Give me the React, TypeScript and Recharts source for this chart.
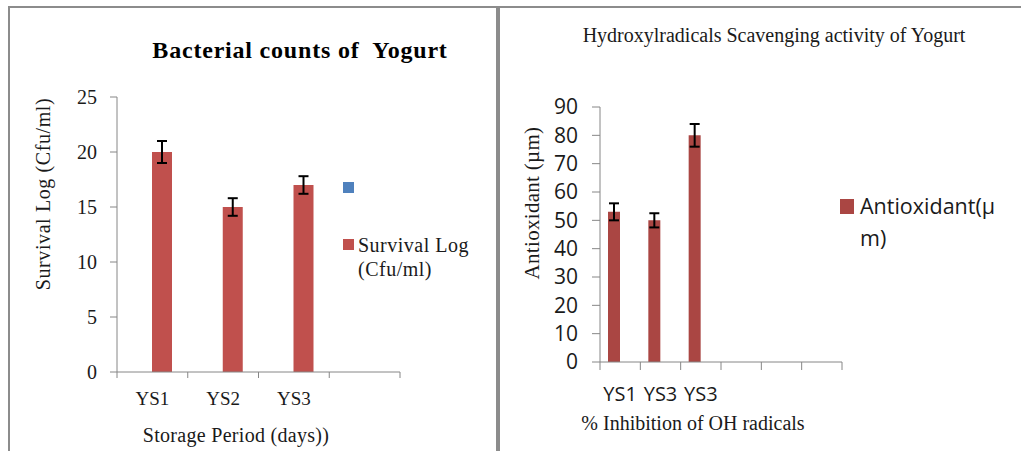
import { BarChart, Bar, XAxis, YAxis, ErrorBar, Legend, Label } from 'recharts';

// Bacterial counts panel
const countCategories = ['YS1', 'YS2', 'YS3', ''];
const survivalLog = [20, 15, 17, null];
const survivalErr = [1, 0.8, 0.8, null];
const countTicks = [0, 5, 10, 15, 20, 25];

// Hydroxyl radical scavenging panel
const antiCategories = ['YS1', 'YS3', 'YS3', '', '', ''];
const antioxidant = [53, 50, 80, null, null, null];
const antioxidantErr = [3, 2.5, 4, null, null, null];
const antiTicks = [0, 10, 20, 30, 40, 50, 60, 70, 80, 90];

const countData = countCategories.map((name, i) => ({
  name,
  blank: null,
  survival: survivalLog[i],
  err: survivalErr[i],
}));

const antiData = antiCategories.map((name, i) => ({
  name,
  antioxidant: antioxidant[i],
  err: antioxidantErr[i],
  blank: null,
}));

const AXIS = '#868686';
const SERIF = '"Liberation Serif", "Times New Roman", serif';
const SANS = '"Open Sans", "Noto Sans", sans-serif';
const TEXT = '#1a1a1a';

function CategoryTick(props: any) {
  const { x, y, payload, index, visibleTicksCount, half, tickLen, labelDy, font, size } = props;
  const h = payload?.offset ?? half;
  const last = index === visibleTicksCount - 1;
  return (
    <g>
      <line x1={x - h} x2={x - h} y1={y} y2={y + tickLen} stroke={AXIS} />
      {last && <line x1={x + h} x2={x + h} y1={y} y2={y + tickLen} stroke={AXIS} />}
      <text
        x={x}
        y={y + labelDy}
        textAnchor='middle'
        dominantBaseline='central'
        fontFamily={font}
        fontSize={size}
        fill={TEXT}
      >
        {payload.value}
      </text>
    </g>
  );
}

function axisTitle(text: string, cx: number, cy: number, font: string, size: number, rotate = false, spacing = 0) {
  return () => (
    <text
      transform={`translate(${cx},${cy})${rotate ? ' rotate(-90)' : ''}`}
      textAnchor='middle'
      dominantBaseline='central'
      fontFamily={font}
      fontSize={size}
      letterSpacing={spacing}
      fill={TEXT}
    >
      {text}
    </text>
  );
}

function countLegend(props: any) {
  const items = (props.payload ?? []).filter((it: any) => it.type !== 'none');
  return (
    <div style={{ fontFamily: SERIF, fontSize: 20, letterSpacing: 0.5, color: TEXT }}>
      {items.map((it: any, i: number) => (
        <div
          key={i}
          style={{ display: 'flex', alignItems: 'flex-start', marginTop: i === 0 ? 0 : 40, lineHeight: '24px' }}
        >
          <span style={{ width: 11, height: 11, marginTop: 6, background: it.color, flex: 'none' }} />
          <span style={{ marginLeft: 4, width: 130 }}>{it.value}</span>
        </div>
      ))}
    </div>
  );
}

function antiLegend(props: any) {
  const items = (props.payload ?? []).filter((it: any) => it.type !== 'none' && it.dataKey !== 'blank');
  return (
    <div style={{ fontFamily: SANS, fontSize: 21.5, color: TEXT }}>
      {items.map((it: any, i: number) => (
        <div key={i} style={{ display: 'flex', alignItems: 'flex-start', lineHeight: '32px' }}>
          <span style={{ width: 14, height: 15, marginTop: 9, background: it.color, flex: 'none' }} />
          <span style={{ marginLeft: 6, width: 150, wordBreak: 'break-all' }}>{it.value}</span>
        </div>
      ))}
    </div>
  );
}

export default function App() {
  return (
    <div
      style={{
        position: 'absolute',
        left: 0,
        top: 0,
        width: 1021,
        height: 451,
        background: '#fff',
        overflow: 'hidden',
      }}
    >
      {/* panel frames */}
      <div style={{ position: 'absolute', left: 8, top: 6, width: 1013, height: 2, background: '#8c8c8c' }} />
      <div style={{ position: 'absolute', left: 8, top: 6, width: 2, height: 445, background: '#8c8c8c' }} />
      <div style={{ position: 'absolute', left: 496, top: 6, width: 4, height: 445, background: '#8c8c8c' }} />

      <div
        style={{
          position: 'absolute',
          left: 0,
          top: 37,
          width: 600,
          textAlign: 'center',
          fontFamily: SERIF,
          fontWeight: 'bold',
          fontSize: 24,
          letterSpacing: 0.8,
          lineHeight: '26px',
          whiteSpace: 'pre',
          color: '#000',
        }}
      >
        Bacterial counts of  Yogurt
      </div>
      <div
        style={{
          position: 'absolute',
          left: 574,
          top: 22,
          width: 400,
          textAlign: 'center',
          fontFamily: SERIF,
          fontSize: 20,
          lineHeight: '26px',
          color: TEXT,
        }}
      >
        Hydroxylradicals Scavenging activity of Yogurt
      </div>

      <div style={{ position: 'absolute', left: 0, top: 0 }}>
        <BarChart
          width={497}
          height={451}
          data={countData}
          margin={{ top: 97, right: 97, bottom: 0, left: 0 }}
          barGap={0}
          barSize={20}
        >
          <XAxis
            dataKey='name'
            height={79}
            interval={0}
            tickSize={0}
            tickMargin={0}
            axisLine={{ stroke: AXIS }}
            tick={(p: any) => (
              <CategoryTick {...p} half={35.4} tickLen={6} labelDy={26} font={SERIF} size={19} />
            )}
          >
            <Label content={axisTitle('Storage Period (days))', 236, 435, SERIF, 20, false, 0.3)} />
          </XAxis>
          <YAxis
            width={117}
            domain={[0, 25]}
            ticks={countTicks}
            interval={0}
            tickSize={7}
            tickMargin={13}
            axisLine={{ stroke: AXIS }}
            tickLine={{ stroke: AXIS }}
            tick={{ fontFamily: SERIF, fontSize: 20, fill: TEXT }}
          >
            <Label content={axisTitle('Survival Log (Cfu/ml)', 43, 194, SERIF, 20, true, 0.6)} />
          </YAxis>
          <Legend
            layout='vertical'
            align='center'
            verticalAlign='middle'
            content={countLegend}
            wrapperStyle={{ position: 'absolute', left: 343, top: 176, width: 150 }}
          />
          <Bar dataKey='blank' name=' ' fill='#4F81BD' isAnimationActive={false} />
          <Bar dataKey='survival' name='Survival Log (Cfu/ml)' fill='#C0504D' isAnimationActive={false}>
            <ErrorBar dataKey='err' width={5} strokeWidth={2} stroke='#000' />
          </Bar>
        </BarChart>
      </div>

      <div style={{ position: 'absolute', left: 500, top: 0 }}>
        <BarChart
          width={521}
          height={451}
          data={antiData}
          margin={{ top: 107, right: 179, bottom: 0, left: 0 }}
          barGap={0}
          barSize={12}
        >
          <XAxis
            dataKey='name'
            height={89}
            interval={0}
            tickSize={0}
            tickMargin={0}
            axisLine={{ stroke: AXIS }}
            tick={(p: any) => (
              <CategoryTick {...p} half={20.2} tickLen={8} labelDy={31} font={SANS} size={20} />
            )}
          >
            <Label content={axisTitle('% Inhibition of OH radicals', 193, 423, SERIF, 20)} />
          </XAxis>
          <YAxis
            width={100}
            domain={[0, 90]}
            ticks={antiTicks}
            interval={0}
            tickSize={8}
            tickMargin={14}
            axisLine={{ stroke: AXIS }}
            tickLine={{ stroke: AXIS }}
            tick={{ fontFamily: SANS, fontSize: 21, fill: TEXT }}
          >
            <Label content={axisTitle('Antioxidant (µm)', 32, 203, SERIF, 21, true, 0.3)} />
          </YAxis>
          <Legend
            layout='vertical'
            align='center'
            verticalAlign='middle'
            content={antiLegend}
            wrapperStyle={{ position: 'absolute', left: 340, top: 190, width: 180 }}
          />
          <Bar dataKey='antioxidant' name='Antioxidant(µm)' fill='#AA4643' isAnimationActive={false}>
            <ErrorBar dataKey='err' width={5} strokeWidth={2} stroke='#000' />
          </Bar>
          <Bar dataKey='blank' legendType='none' fill='#4F81BD' isAnimationActive={false} />
        </BarChart>
      </div>
    </div>
  );
}
